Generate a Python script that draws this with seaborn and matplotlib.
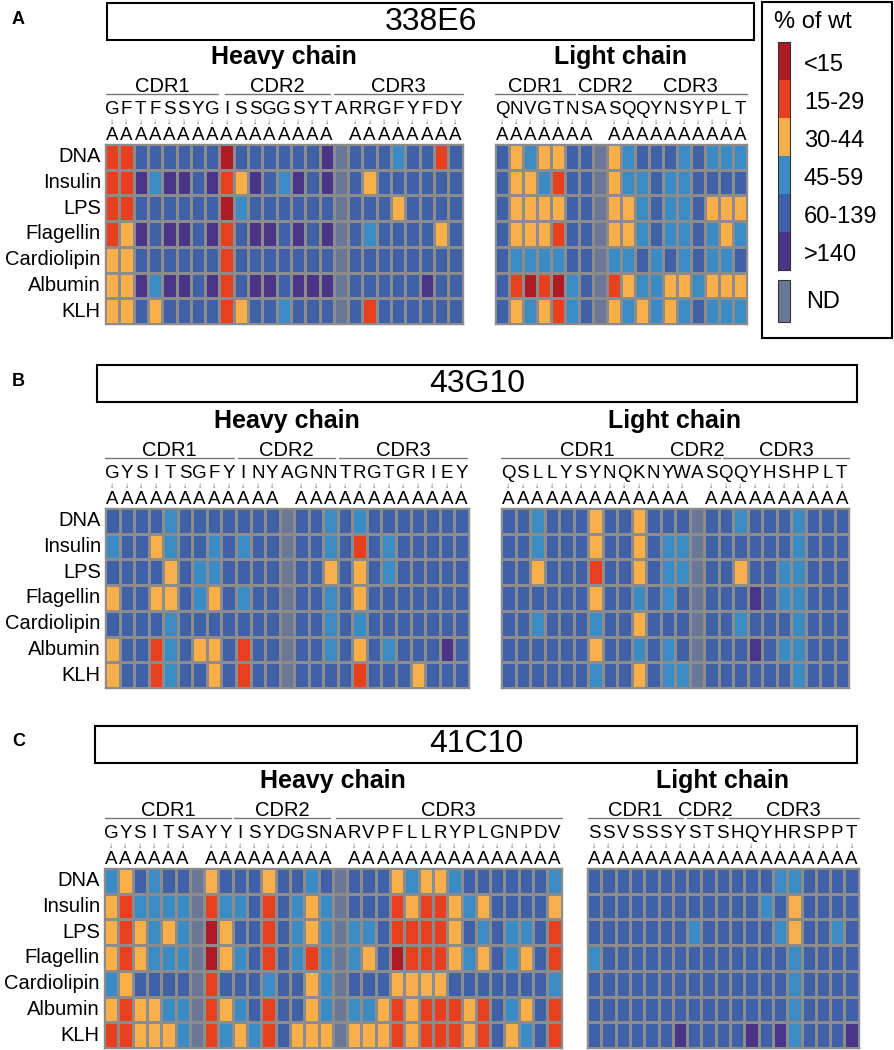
import numpy as np
import matplotlib
matplotlib.use("Agg")
import matplotlib.pyplot as plt
import seaborn as sns
from matplotlib.colors import ListedColormap
from matplotlib.patches import Rectangle
from matplotlib.transforms import blended_transform_factory

# ---- data ----------------------------------------------------------------
# codes: 0 '<15', 1 '15-29', 2 '30-44', 3 '45-59', 4 '60-139', 5 '>140', 6 'ND'
targets = ["DNA", "Insulin", "LPS", "Flagellin", "Cardiolipin", "Albumin", "KLH"]
bins = ["<15", "15-29", "30-44", "45-59", "60-139", ">140"]

a_heavy_res = "GFTFSSYGISSGGSYTARRGFYFDY"
a_heavy_cdr = [("CDR1", 0.1, 7.9), ("CDR2", 8.4, 15.7), ("CDR3", 16.0, 25.0)]
a_heavy = [
    [1, 1, 4, 4, 4, 4, 4, 4, 0, 4, 4, 4, 4, 4, 4, 5, 6, 4, 4, 4, 3, 4, 4, 1, 4],
    [1, 1, 5, 3, 5, 5, 4, 5, 1, 2, 5, 4, 3, 5, 4, 5, 6, 4, 2, 4, 4, 4, 4, 4, 4],
    [1, 1, 4, 4, 4, 4, 4, 4, 0, 3, 4, 4, 4, 4, 4, 4, 6, 4, 4, 4, 2, 4, 4, 4, 4],
    [1, 2, 5, 4, 5, 5, 4, 5, 1, 4, 5, 5, 4, 5, 4, 5, 6, 4, 3, 4, 4, 4, 4, 2, 4],
    [2, 2, 4, 4, 4, 4, 4, 4, 1, 4, 4, 4, 4, 4, 4, 4, 6, 4, 4, 4, 4, 4, 4, 4, 4],
    [2, 2, 5, 3, 5, 5, 4, 5, 1, 4, 5, 5, 4, 5, 5, 5, 6, 4, 4, 4, 4, 4, 5, 4, 4],
    [2, 2, 4, 2, 4, 4, 4, 4, 1, 2, 4, 4, 3, 4, 4, 4, 6, 4, 1, 4, 4, 4, 4, 4, 4],
]

a_light_res = "QNVGTNSASQQYNSYPLT"
a_light_cdr = [("CDR1", 0.0, 5.7), ("CDR2", 5.95, 9.75), ("CDR3", 9.85, 18.0)]
a_light = [
    [4, 2, 3, 2, 2, 4, 4, 6, 2, 3, 4, 4, 4, 3, 4, 3, 3, 3],
    [4, 2, 2, 3, 1, 4, 4, 6, 2, 3, 3, 4, 3, 3, 4, 4, 4, 4],
    [4, 2, 2, 2, 2, 4, 4, 6, 2, 2, 3, 4, 3, 3, 4, 2, 2, 2],
    [4, 2, 2, 2, 1, 4, 4, 6, 2, 2, 3, 4, 3, 3, 4, 3, 2, 3],
    [4, 3, 3, 3, 3, 4, 4, 6, 3, 3, 4, 3, 4, 3, 4, 3, 3, 4],
    [4, 1, 0, 1, 0, 3, 4, 6, 1, 2, 3, 3, 2, 2, 3, 2, 2, 2],
    [4, 2, 3, 2, 1, 3, 4, 6, 2, 3, 2, 3, 2, 3, 4, 3, 3, 3],
]

b_heavy_res = "GYSITSGFYINYAGNNTRGTGRIEY"
b_heavy_cdr = [("CDR1", 0.0, 8.9), ("CDR2", 9.15, 15.8), ("CDR3", 16.1, 24.9)]
b_heavy = [
    [4, 4, 4, 4, 3, 4, 4, 4, 4, 4, 4, 4, 6, 4, 4, 3, 4, 3, 4, 4, 4, 4, 4, 4, 4],
    [3, 4, 4, 2, 3, 4, 4, 3, 4, 3, 4, 4, 6, 4, 4, 3, 4, 1, 4, 3, 4, 4, 4, 4, 4],
    [4, 4, 4, 4, 2, 4, 3, 3, 4, 4, 4, 4, 6, 4, 4, 2, 4, 2, 4, 3, 4, 4, 4, 4, 4],
    [2, 4, 4, 2, 2, 4, 3, 2, 4, 3, 4, 4, 6, 4, 4, 3, 4, 2, 4, 4, 4, 4, 4, 4, 4],
    [4, 4, 4, 4, 3, 4, 4, 4, 4, 4, 4, 4, 6, 4, 4, 3, 4, 3, 4, 4, 4, 4, 4, 4, 4],
    [2, 4, 4, 1, 3, 4, 2, 2, 4, 1, 4, 4, 6, 4, 4, 3, 4, 2, 4, 3, 4, 4, 4, 5, 4],
    [2, 4, 4, 1, 3, 4, 4, 2, 4, 1, 4, 4, 6, 4, 4, 4, 4, 1, 4, 4, 4, 2, 4, 4, 4],
]

b_light_res = "QSLLYSYNQKNYWASQQYHSHPLT"
b_light_cdr = [("CDR1", 0.0, 11.9), ("CDR2", 12.0, 15.1), ("CDR3", 15.3, 24.0)]
b_light = [
    [4, 4, 3, 4, 4, 4, 2, 4, 4, 2, 4, 4, 4, 6, 4, 4, 3, 4, 4, 4, 3, 4, 4, 4],
    [4, 4, 3, 4, 4, 4, 2, 4, 4, 2, 4, 3, 3, 6, 4, 4, 4, 4, 4, 4, 3, 4, 4, 4],
    [4, 4, 2, 4, 4, 4, 1, 4, 4, 2, 4, 3, 3, 6, 4, 4, 2, 4, 4, 3, 3, 4, 4, 4],
    [4, 4, 4, 4, 4, 4, 2, 4, 4, 3, 4, 3, 4, 6, 4, 4, 4, 5, 4, 3, 3, 4, 4, 4],
    [4, 4, 3, 4, 4, 4, 3, 4, 4, 2, 4, 4, 4, 6, 4, 4, 3, 4, 4, 4, 3, 4, 4, 4],
    [4, 4, 4, 4, 4, 4, 2, 4, 4, 3, 4, 3, 4, 6, 4, 4, 4, 5, 4, 3, 3, 4, 4, 4],
    [4, 4, 4, 4, 4, 4, 3, 4, 4, 2, 4, 3, 3, 6, 4, 4, 4, 4, 4, 4, 3, 4, 4, 4],
]

c_heavy_res = "GYSITSAYYISYDGSNARVPFLLRYPLGNPDV"
c_heavy_cdr = [("CDR1", 0.1, 8.9), ("CDR2", 9.1, 15.8), ("CDR3", 16.2, 32.0)]
c_heavy = [
    [3, 2, 4, 3, 4, 4, 6, 2, 4, 4, 4, 2, 4, 4, 3, 4, 6, 4, 4, 4, 2, 3, 2, 2, 3, 4, 4, 4, 4, 4, 4, 3],
    [2, 1, 3, 3, 3, 3, 6, 1, 3, 3, 4, 1, 4, 3, 2, 3, 6, 4, 4, 4, 1, 2, 1, 1, 2, 3, 2, 4, 4, 4, 4, 2],
    [2, 1, 2, 3, 2, 3, 6, 0, 2, 4, 4, 1, 4, 3, 2, 3, 6, 3, 3, 4, 1, 1, 1, 1, 2, 4, 3, 4, 3, 3, 4, 1],
    [2, 1, 2, 3, 3, 3, 6, 0, 2, 3, 4, 1, 4, 3, 1, 3, 6, 3, 2, 4, 0, 1, 1, 1, 2, 3, 2, 4, 3, 2, 4, 1],
    [3, 2, 4, 4, 4, 4, 6, 1, 4, 4, 4, 3, 4, 4, 2, 3, 6, 4, 4, 4, 2, 2, 2, 2, 4, 4, 4, 4, 4, 4, 4, 3],
    [2, 1, 2, 2, 3, 3, 6, 1, 2, 3, 4, 1, 4, 4, 2, 3, 6, 3, 3, 2, 1, 2, 1, 1, 1, 2, 1, 4, 3, 2, 4, 1],
    [1, 1, 2, 2, 2, 3, 6, 1, 3, 2, 3, 1, 4, 2, 2, 2, 6, 2, 2, 2, 1, 2, 1, 1, 1, 2, 1, 4, 2, 3, 4, 1],
]

c_light_res = "SSVSSSYSTSHQYHRSPPT"
c_light_cdr = [("CDR1", 0.05, 6.7), ("CDR2", 7.0, 9.6), ("CDR3", 9.9, 19.0)]
c_light = [
    [4, 4, 4, 4, 4, 4, 4, 4, 4, 4, 4, 4, 4, 3, 3, 4, 4, 4, 4],
    [4, 4, 4, 4, 4, 4, 4, 4, 4, 4, 4, 4, 3, 4, 2, 4, 4, 4, 4],
    [4, 4, 4, 4, 4, 4, 4, 3, 4, 4, 4, 4, 4, 3, 2, 4, 4, 3, 4],
    [3, 4, 4, 4, 4, 4, 4, 4, 4, 4, 4, 4, 4, 4, 3, 4, 4, 4, 4],
    [4, 4, 4, 4, 4, 4, 4, 4, 4, 4, 4, 4, 4, 4, 3, 4, 4, 4, 4],
    [4, 4, 4, 4, 4, 4, 4, 4, 4, 4, 4, 4, 4, 4, 3, 4, 4, 4, 4],
    [4, 4, 4, 4, 4, 4, 5, 4, 4, 4, 4, 5, 4, 5, 3, 4, 4, 4, 5],
]

antibodies = ["338E6", "43G10", "41C10"]

# ---- style ---------------------------------------------------------------
colors = ["#ae1b24", "#e8401f", "#f8ae49", "#3b8cc4", "#4060a8", "#4b3588", "#6b7796"]
cmap = ListedColormap(colors)
grid_c = "#8c8c8c"
narrow = ['Liberation Sans Narrow', 'Liberation Sans', 'DejaVu Sans']

sns.set_style("white")
plt.rcParams['font.family'] = ['Liberation Sans', 'DejaVu Sans']
plt.rcParams['text.color'] = 'black'
plt.rcParams['ytick.color'] = 'black'
plt.rcParams['ytick.labelcolor'] = 'black'

W, H = 894, 1050
fig = plt.figure(figsize=(W / 100, H / 100), dpi=100)


def fx(x):
    return x / W


def fy(y):
    return 1 - y / H


ROW_H = 25.7


def chain_heatmap(vals, residues, cdrs, title, left, top, cell_w, show_rows):
    n = len(residues)
    ax = fig.add_axes([fx(left), fy(top + 7 * ROW_H), n * cell_w / W, 7 * ROW_H / H])
    sns.heatmap(np.array(vals), ax=ax, cmap=cmap, vmin=-0.5, vmax=6.5, cbar=False,
                linewidths=0.9, linecolor=grid_c, xticklabels=False,
                yticklabels=targets if show_rows else False)
    for sp in ax.spines.values():
        sp.set_visible(True)
        sp.set_color(grid_c)
        sp.set_linewidth(1.0)
    ax.tick_params(axis="y", length=0, pad=3, labelsize=14.5, labelcolor="black")
    for t in ax.get_yticklabels():
        t.set_rotation(0)
    tr = blended_transform_factory(ax.transData, fig.transFigure)

    # chain title, CDR brackets, residues, arrows and alanine row
    ax.text(n / 2, fy(top - 87), title, transform=tr, ha="center", va="center",
            fontsize=18, fontweight="bold")
    for lab, s, e in cdrs:
        ax.plot([s, e], [fy(top - 50)] * 2, transform=tr, color="#777777", lw=1.0,
                clip_on=False)
        ax.text((s + e) / 2, fy(top - 58), lab, transform=tr, ha="center", va="center",
                fontsize=14.5)
    for i, r in enumerate(residues):
        ax.text(i + 0.5, fy(top - 34), r, transform=tr, ha="center", va="center",
                fontsize=13.5)
        if r != "A":
            ax.text(i + 0.5, fy(top - 21), "\u2193", transform=tr, ha="center",
                    va="center", fontsize=6, color="#444444")
            ax.text(i + 0.5, fy(top - 8), "A", transform=tr, ha="center", va="center",
                    fontsize=13.5)
    return ax


def title_box(x0, x1, y0, y1, name, letter, ly):
    fig.add_artist(Rectangle((fx(x0), fy(y1)), (x1 - x0) / W, (y1 - y0) / H,
                             transform=fig.transFigure, fill=False, ec="black", lw=1.5))
    fig.text(fx((x0 + x1) / 2), fy((y0 + y1) / 2), name, ha="center", va="center",
             fontsize=23, family=narrow)
    fig.text(fx(12), fy(ly), letter, ha="left", va="center", fontsize=13,
             fontweight="bold", family=narrow)


# panel A
title_box(107, 754, 3, 40, antibodies[0], "A", 20)
chain_heatmap(a_heavy, a_heavy_res, a_heavy_cdr, "Heavy chain", 105, 144, 14.3, True)
chain_heatmap(a_light, a_light_res, a_light_cdr, "Light chain", 495, 144, 14.0, False)

# panel B
title_box(97, 857, 365, 402, antibodies[1], "B", 382)
chain_heatmap(b_heavy, b_heavy_res, b_heavy_cdr, "Heavy chain", 105, 508, 14.55, True)
chain_heatmap(b_light, b_light_res, b_light_cdr, "Light chain", 501, 508, 14.5, False)

# panel C
title_box(95, 857, 726, 763, antibodies[2], "C", 742)
chain_heatmap(c_heavy, c_heavy_res, c_heavy_cdr, "Heavy chain", 104, 868, 14.3, True)
chain_heatmap(c_light, c_light_res, c_light_cdr, "Light chain", 587, 868, 14.3, False)

# ---- legend --------------------------------------------------------------
fig.add_artist(Rectangle((fx(762), fy(338)), 130 / W, 336 / H, transform=fig.transFigure,
                         fill=False, ec="black", lw=1.5))
fig.text(fx(813), fy(22), "% of wt", ha="center", va="center", fontsize=17)
lax = fig.add_axes([fx(778), fy(270), 12 / W, 228 / H])
sns.heatmap(np.arange(len(bins)).reshape(-1, 1), ax=lax, cmap=ListedColormap(colors[:6]),
            cbar=False, xticklabels=False, yticklabels=False)
for sp in lax.spines.values():
    sp.set_visible(True)
    sp.set_color("#333333")
    sp.set_linewidth(0.8)
ltr = blended_transform_factory(fig.transFigure, lax.transData)
for i, lab in enumerate(bins):
    lax.text(fx(804), i + 0.6, lab, transform=ltr, ha="left", va="center", fontsize=17)
fig.add_artist(Rectangle((fx(778), fy(322)), 12 / W, 42 / H, transform=fig.transFigure,
                         fc=colors[6], ec="#333333", lw=0.8))
fig.text(fx(806), fy(302), "ND", ha="left", va="center", fontsize=17)

fig.savefig("out.png", dpi=100)
